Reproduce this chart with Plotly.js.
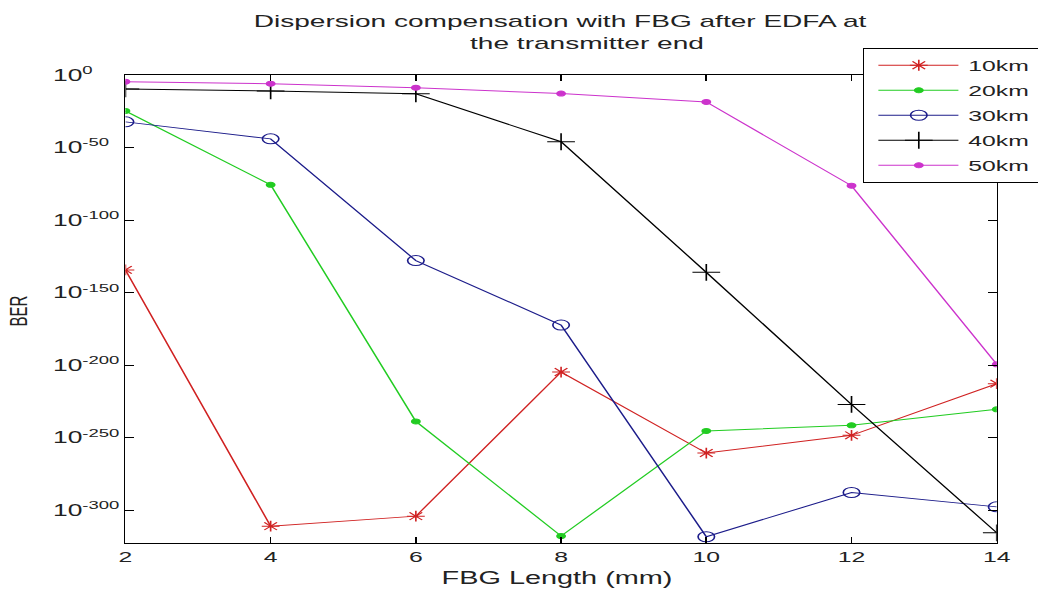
<!DOCTYPE html>
<html>
<head>
<meta charset="utf-8">
<script src="https://cdn.plot.ly/plotly-3.0.1.min.js"></script>
<style>
html,body{margin:0;padding:0;background:#fff;overflow:hidden;}
#wrap{width:629px;height:599px;transform-origin:0 0;}
</style>
</head>
<body>
<div id="wrap"></div>
<script>
// FBG length (mm)
const fbgLength = [2, 4, 6, 8, 10, 12, 14];
// log10(BER) values
const ber10km = [-134.3, -310.9, -304.0, -204.7, -260.5, -248.3, -212.7];
const ber20km = [-24.8, -75.7, -238.7, -317.7, -245.3, -241.4, -230.4];
const ber30km = [-32.3, -44.0, -127.9, -172.3, -318.2, -287.7, -297.6];
const ber40km = [-9.6, -11.0, -13.0, -46.0, -136.0, -227.0, -315.5];
const ber50km = [-4.6, -6.0, -8.7, -12.8, -18.6, -76.3, -199.4];
const seriesNames = ["10km", "20km", "30km", "40km", "50km"];
const yTickExps = [0, -50, -100, -150, -200, -250, -300];
const xTicks = [2, 4, 6, 8, 10, 12, 14];

const yTickText = yTickExps.map(e => "10<sup>" + e + "</sup>");

// The reference picture is horizontally stretched; reproduce by drawing
// narrower and stretching the whole chart horizontally.
const W0 = 629, H = 599, S = 1038 / W0;
const wrap = document.getElementById('wrap');
wrap.style.transform = 'scaleX(' + S + ')';

function tr(y, name, color, symbol, size) {
  return {
    x: fbgLength, y: y, name: name, legendgroup: name, type: 'scatter', mode: 'lines+markers',
    line: {color: color, width: 1},
    marker: {symbol: symbol, size: size, color: color, line: {color: color, width: 1}}
  };
}

const data = [
  tr(ber10km, seriesNames[0], '#d02222', 'asterisk-open', 9),
  tr(ber20km, seriesNames[1], '#22cc22', 'circle', 5),
  tr(ber30km, seriesNames[2], '#1c1c8a', 'circle-open', 10),
  tr(ber40km, seriesNames[3], '#000000', 'cross-thin-open', 12),
  tr(ber50km, seriesNames[4], '#cc33cc', 'circle', 5)
];

const mL = 126 / S, mR = 41 / S, mT = 75, mB = 56;
const plotW = W0 - mL - mR, plotH = H - mT - mB;

const layout = {
  width: W0, height: H,
  paper_bgcolor: '#ffffff', plot_bgcolor: '#ffffff',
  margin: {l: mL, r: mR, t: mT, b: mB, pad: 0},
  font: {family: 'Liberation Sans, Arial, sans-serif', size: 16, color: '#222'},
  title: {
    text: 'Dispersion compensation with FBG after EDFA at<br>the transmitter end',
    font: {size: 17, color: '#222'},
    x: 560 / 1038, xanchor: 'center', y: 0.955, yanchor: 'top'
  },
  xaxis: {
    range: [2, 14], tickvals: xTicks, ticktext: xTicks.map(String),
    ticks: 'inside', ticklen: 6, tickcolor: '#000', mirror: 'ticks',
    showline: true, linecolor: '#000', linewidth: 1, showgrid: false, zeroline: false,
    automargin: false,
    title: {text: 'FBG Length (mm)', font: {size: 17.5, color: '#222'}, standoff: 6},
    tickfont: {size: 15, color: '#222'}
  },
  yaxis: {
    range: [-322.5, 0], tickvals: yTickExps, ticktext: yTickText,
    ticks: 'inside', ticklen: 5.5, tickcolor: '#000', mirror: 'ticks',
    showline: true, linecolor: '#000', linewidth: 1, showgrid: false, zeroline: false,
    automargin: false,
    title: {text: 'BER', font: {size: 15, color: '#222'}, standoff: 6},
    tickfont: {size: 16, color: '#222'}
  },
  showlegend: true,
  legend: {
    x: (863 / S - mL) / plotW, xanchor: 'left',
    y: 1 + (mT - 48) / plotH, yanchor: 'top',
    bgcolor: '#ffffff', bordercolor: '#000', borderwidth: 1,
    font: {size: 15, color: '#222'}, traceorder: 'grouped', tracegroupgap: 2.5
  }
};

function prependTranslate(el, dx, dy) {
  const t = el.getAttribute('transform') || '';
  el.setAttribute('transform', 'translate(' + dx + ',' + dy + ') ' + t);
}

Plotly.newPlot(wrap, data, layout, {displayModeBar: false, staticPlot: true}).then(gd => {
  // y tick labels: left aligned like the reference
  gd.querySelectorAll('g.ytick text').forEach(t => {
    const r = t.getBoundingClientRect();
    prependTranslate(t, (53 - r.left) / S, 0);
  });
  // wider legend entries, as in the reference (box runs off the right edge)
  const extra = 23;
  gd.querySelectorAll('.legend [clip-path]').forEach(e => e.removeAttribute('clip-path'));
  gd.querySelectorAll('clipPath[id^="legend"] rect').forEach(r => {
    const w = parseFloat(r.getAttribute('width') || '0');
    r.setAttribute('width', w + extra + 20);
  });
  gd.querySelectorAll('.legend g.legendlines path').forEach(p => {
    p.setAttribute('d', 'M8.5,0h48.5');
  });
  gd.querySelectorAll('.legend g.legendpoints path').forEach(p => {
    p.setAttribute('transform', 'translate(33,0)');
  });
  gd.querySelectorAll('.legend text.legendtext').forEach(t => {
    const x = parseFloat(t.getAttribute('x') || '40');
    t.setAttribute('x', x + extra);
  });
  gd.querySelectorAll('.legend rect.bg').forEach(r => {
    const w = parseFloat(r.getAttribute('width') || '0');
    r.setAttribute('width', w + extra);
  });
  // title lines
  const title = gd.querySelector('.gtitle');
  if (title) {
    const lines = title.querySelectorAll('tspan.line');
    if (lines.length > 1) {
      const x2 = parseFloat(lines[1].getAttribute('x') || '0');
      lines[1].setAttribute('x', x2 + 27 / S);
    }
    const first = lines.length ? lines[0] : title;
    const r1 = first.getBoundingClientRect();
    prependTranslate(title, 0, 21 - (r1.top + r1.height / 2));
  }
  // axis titles
  const xt = gd.querySelector('.xtitle');
  if (xt) {
    const r = xt.getBoundingClientRect();
    prependTranslate(xt, (557 - (r.left + r.width / 2)) / S, 578 - (r.top + r.height / 2));
  }
  const yt = gd.querySelector('.ytitle');
  if (yt) {
    const r = yt.getBoundingClientRect();
    prependTranslate(yt, (18 - (r.left + r.width / 2)) / S, 311 - (r.top + r.height / 2));
  }
});
</script>
</body>
</html>
